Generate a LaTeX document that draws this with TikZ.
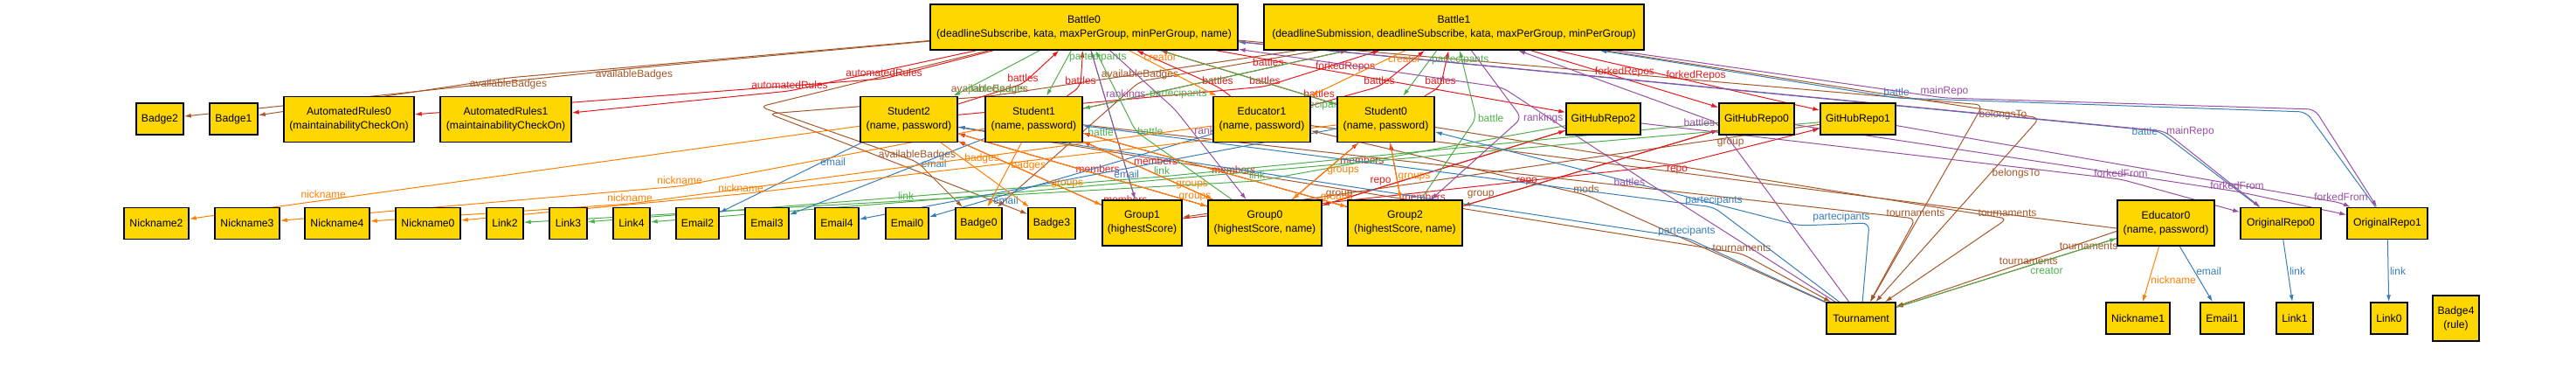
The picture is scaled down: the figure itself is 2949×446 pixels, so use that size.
\documentclass[tikz,border=0pt]{standalone}
\usepackage{fontspec}
\setmainfont{Liberation Sans}
\usepackage{xcolor}
\usetikzlibrary{arrows.meta,positioning,backgrounds}
\definecolor{alloygold}{HTML}{FFD700}
\definecolor{alloyred}{HTML}{E41A1C}
\definecolor{alloyblue}{HTML}{377EB8}
\definecolor{alloygreen}{HTML}{4DAF4A}
\definecolor{alloypurple}{HTML}{984EA3}
\definecolor{alloyorange}{HTML}{FF7F00}
\definecolor{alloybrown}{HTML}{A65628}

\begin{document}
\begin{tikzpicture}[
    x=1pt,y=-1pt,
    atom/.style  = {draw=black, line width=1.4pt, fill=alloygold, align=center,
                    font=\fontsize{12.2}{16}\selectfont, inner sep=1pt,
                    minimum height=36},
    atomb/.style = {atom, minimum height=52},
    rel/.style   = {-{Latex[length=8pt,width=5pt]}, line width=1pt, rounded corners=8pt},
    et/.style    = {font=\fontsize{12}{14}\selectfont, inner sep=1.5pt},
  ]
  \useasboundingbox (0,0) rectangle (2949,446);

  % top row
  \node[atomb, minimum width=352] (b0) at (1241,31)
       {Battle0\\(deadlineSubscribe, kata, maxPerGroup, minPerGroup, name)};
  \node[atomb, minimum width=435] (b1) at (1664.5,31)
       {Battle1\\(deadlineSubmission, deadlineSubscribe, kata, maxPerGroup, minPerGroup)};

  % middle row
  \node[atom,  minimum width=54]  (bdg2) at (183,136)    {Badge2};
  \node[atom,  minimum width=55]  (bdg1) at (267.5,136)  {Badge1};
  \node[atomb, minimum width=149] (ar0)  at (399.5,136.5) {AutomatedRules0\\(maintainabilityCheckOn)};
  \node[atomb, minimum width=150] (ar1)  at (579,136.5)   {AutomatedRules1\\(maintainabilityCheckOn)};
  \node[atomb, minimum width=111] (s2)   at (1040.5,136.5) {Student2\\(name, password)};
  \node[atomb, minimum width=111] (s1)   at (1183.5,136.5) {Student1\\(name, password)};
  \node[atomb, minimum width=111] (ed1)  at (1444.5,136.5) {Educator1\\(name, password)};
  \node[atomb, minimum width=111] (s0)   at (1586.5,136.5) {Student0\\(name, password)};
  \node[atom,  minimum width=85]  (gh2)  at (1835.5,136) {GitHubRepo2};
  \node[atom,  minimum width=86]  (gh0)  at (2011,136)   {GitHubRepo0};
  \node[atom,  minimum width=86]  (gh1)  at (2127,136)   {GitHubRepo1};

  % lower row
  \node[atom, minimum width=74] (nk2) at (179,255.5)  {Nickname2};
  \node[atom, minimum width=74] (nk3) at (283,255.5)  {Nickname3};
  \node[atom, minimum width=74] (nk4) at (386,255.5)  {Nickname4};
  \node[atom, minimum width=74] (nk0) at (490,255.5)  {Nickname0};
  \node[atom, minimum width=42] (lk2) at (578,255.5)  {Link2};
  \node[atom, minimum width=43] (lk3) at (650.5,255.5) {Link3};
  \node[atom, minimum width=42] (lk4) at (723,255.5)  {Link4};
  \node[atom, minimum width=49] (em2) at (798.5,255.5) {Email2};
  \node[atom, minimum width=50] (em3) at (878,255.5)  {Email3};
  \node[atom, minimum width=50] (em4) at (958,255.5)  {Email4};
  \node[atom, minimum width=49] (em0) at (1038.5,255.5) {Email0};
  \node[atom, minimum width=53] (bdg0) at (1120.5,255.5) {Badge0};
  \node[atom, minimum width=54] (bdg3) at (1204,255.5)  {Badge3};
  \node[atomb, minimum width=91]  (gr1) at (1307.5,255) {Group1\\(highestScore)};
  \node[atomb, minimum width=130] (gr0) at (1448,255)   {Group0\\(highestScore, name)};
  \node[atomb, minimum width=131] (gr2) at (1608.5,255) {Group2\\(highestScore, name)};
  \node[atomb, minimum width=111] (ed0) at (2479.5,255) {Educator0\\(name, password)};
  \node[atom, minimum width=92] (or0) at (2611,255.5) {OriginalRepo0};
  \node[atom, minimum width=92] (or1) at (2733,255.5) {OriginalRepo1};

  % bottom row
  \node[atom, minimum width=79] (tour) at (2130.5,364) {Tournament};
  \node[atom, minimum width=73] (nk1)  at (2447.5,364) {Nickname1};
  \node[atom, minimum width=50] (em1)  at (2544,364)   {Email1};
  \node[atom, minimum width=42] (lk1)  at (2627,364)   {Link1};
  \node[atom, minimum width=42] (lk0)  at (2735,364)   {Link0};
  \node[atomb, minimum width=53] (bdg4) at (2811.5,364) {Badge4\\(rule)};

  \begin{scope}[on background layer]
  % availableBadges, belongsTo, tournaments, mods, group
  \draw[rel,alloybrown] (b0) -- (726,78) node[et,below]{availableBadges} -- (bdg2);
  \draw[rel,alloybrown] (b0) -- (582,89) node[et,below]{availableBadges} -- (bdg1);
  \draw[rel,alloybrown] (b0) -- (870,122) -- (1050,185) node[et,above]{availableBadges} -- (bdg0);
  \draw[rel,alloybrown] (b1) -- (1133,110) node[et,above]{availableBadges} -- (880,130) -- (bdg3);
  \draw[rel,alloybrown] (b1) -- (1305,93) node[et,above]{availableBadges} -- (bdg0);
  \draw[rel,alloybrown] (b0) -- (2270,120) -- node[et,pos=.05,right]{belongsTo} (tour);
  \draw[rel,alloybrown] (b1) -- (2335,135) -- node[et,pos=.3,right]{belongsTo} (tour);
  \draw[rel,alloybrown] (s2) -- (1994,290) node[et,above]{tournaments} -- (tour);
  \draw[rel,alloybrown] (s1) -- (2193,250) node[et,above]{tournaments} -- (tour);
  \draw[rel,alloybrown] (s0) -- (2298,250) node[et,above]{tournaments} -- (tour);
  \draw[rel,alloybrown] (ed0) -- node[et,pos=.4,above]{tournaments} (tour);
  \draw[rel,alloybrown] (ed1) -- (2430,262) -- node[et,pos=.15,below]{tournaments} (tour);
  \draw[rel,alloybrown] (tour) -- (1816,223) node[et,above]{mods} -- (ed1);
  \draw[rel,alloybrown] (gh2) -- node[et,pos=.93,above]{group} (gr0);
  \draw[rel,alloybrown] (gh0) -- node[et,pos=.93,above]{group} (gr2);
  \draw[rel,alloybrown] (gh1) -- node[et,pos=.14,below]{group} (gr1);

  % automatedRules, battles, members, repo, forkedRepos
  \draw[rel,alloyred] (b0) -- (1012,90) node[et,above]{automatedRules} -- (ar0);
  \draw[rel,alloyred] (b0) -- (904,104) node[et,above]{automatedRules} -- (ar1);
  \draw[rel,alloyred] (s2) -- (1171,96) node[et,above]{battles} -- (b0);
  \draw[rel,alloyred] (s1) -- (1237,99) node[et,above]{battles} -- (b0);
  \draw[rel,alloyred] (ed1) -- (1394,99) node[et,above]{battles} -- (b0);
  \draw[rel,alloyred] (s0) -- node[et,pos=.1,above]{battles} (b0);
  \draw[rel,alloyred] (s2) -- (1448,99) node[et,above]{battles} -- (b1);
  \draw[rel,alloyred] (s1) -- node[et,pos=.7,above]{battles} (b1);
  \draw[rel,alloyred] (ed1) -- (1579,99) node[et,above]{battles} -- (b1);
  \draw[rel,alloyred] (s0) -- (1649,99) node[et,above]{battles} -- (b1);
  \draw[rel,alloyred] (gr1) -- node[et,pos=0,above right]{members} (s2);
  \draw[rel,alloyred] (gr0) -- node[et,pos=.44,above]{members} (s2);
  \draw[rel,alloyred] (gr0) -- node[et,pos=.44,above=8pt]{members} (s1);
  \draw[rel,alloyred] (gr2) -- node[et,pos=.43,above]{members} (s1);
  \draw[rel,alloyred] (gr0) -- node[et,pos=.7,right]{members} (s0);
  \draw[rel,alloyred] (gr2) -- node[et,pos=.05,right]{members} (s0);
  \draw[rel,alloyred] (gr0) -- node[et,pos=.24,above]{repo} (gh2);
  \draw[rel,alloyred] (gr2) -- node[et,pos=.25,above]{repo} (gh0);
  \draw[rel,alloyred] (gr1) -- (1920,188) node[et,below]{repo} -- (gh1);
  \draw[rel,alloyred] (b0) -- node[et,pos=.37,above]{forkedRepos} (gh2);
  \draw[rel,alloyred] (b1) -- node[et,pos=.5,above]{forkedRepos} (gh0);
  \draw[rel,alloyred] (b1) -- node[et,pos=.53,above]{forkedRepos} (gh1);

  % partecipants, battle, link, creator
  \draw[rel,alloygreen] (b0) -- node[et,pos=.85,right]{partecipants} (s2);
  \draw[rel,alloygreen] (b0) -- node[et,pos=.15,right]{partecipants} (s1);
  \draw[rel,alloygreen] (b0) -- node[et,pos=.9,below]{partecipants} (s0);
  \draw[rel,alloygreen] (b1) -- node[et,pos=.64,below]{partecipants} (s1);
  \draw[rel,alloygreen] (b1) -- node[et,pos=.2,right]{partecipants} (s0);
  \draw[rel,alloygreen] (gr1) -- node[et,pos=.45,left]{battle} (b0);
  \draw[rel,alloygreen] (gr0) -- (1300,150) node[et,right]{battle} -- (b0);
  \draw[rel,alloygreen] (gr2) -- (1690,135) node[et,right]{battle} -- (b1);
  \draw[rel,alloygreen] (gh2) -- (1439,207) node[et,above]{link} -- (lk2);
  \draw[rel,alloygreen] (gh0) -- (1330,202) node[et,above]{link} -- (lk3);
  \draw[rel,alloygreen] (gh1) -- (1037,231) node[et,above]{link} -- (lk4);
  \draw[rel,alloygreen] (tour) -- node[et,pos=.6,below right]{creator} (ed0);

  % email, partecipants, link, battle
  \draw[rel,alloyblue] (s2) -- node[et,pos=.2,below]{email} (em2);
  \draw[rel,alloyblue] (s1) -- node[et,pos=.26,below]{email} (em3);
  \draw[rel,alloyblue] (s0) -- node[et,pos=.44,below]{email} (em4);
  \draw[rel,alloyblue] (ed1) -- node[et,pos=.73,below]{email} (em0);
  \draw[rel,alloyblue] (ed0) -- node[et,pos=.45,right]{email} (em1);
  \draw[rel,alloyblue] (tour) -- (2140,255) -- node[et,pos=.4,above]{partecipants} (2060,258) -- (s0);
  \draw[rel,alloyblue] (tour) -- (1962,237) node[et,above]{partecipants} -- (s1);
  \draw[rel,alloyblue] (tour) -- (1931,272) node[et,above]{partecipants} -- (s2);
  \draw[rel,alloyblue] (or0) -- node[et,right]{link} (lk1);
  \draw[rel,alloyblue] (or1) -- node[et,right]{link} (lk0);
  \draw[rel,alloyblue] (or0) -- (2472,150) node[et,left]{battle} -- (b0);
  \draw[rel,alloyblue] (or1) -- (2640,128) -- (2171,112) node[et,above]{battle} -- (b1);

  % mainRepo, rankings, battles, forkedFrom
  \draw[rel,alloypurple] (b0) -- (2478,150) node[et,right]{mainRepo} -- (or0);
  \draw[rel,alloypurple] (b1) -- (2226,112) node[et,above]{mainRepo} -- (2650,125) -- (or1);
  \draw[rel,alloypurple] (b0) -- node[et,pos=.3,right]{rankings} (gr1);
  \draw[rel,alloypurple] (b0) -- (1345,125) -- node[et,pos=.25,right]{rankings} (gr0);
  \draw[rel,alloypurple] (b1) -- (1742,135) node[et,right]{rankings} -- (gr2);
  \draw[rel,alloypurple] (tour) -- (1965,140) node[et,left]{battles} -- (b1);
  \draw[rel,alloypurple] (tour) -- (1885,208) node[et,left]{battles} -- (1720,100) -- (b0);
  \draw[rel,alloypurple] (gh2) -- (2428,205) node[et,above]{forkedFrom} -- (or0);
  \draw[rel,alloypurple] (gh0) -- (2561,219) node[et,above]{forkedFrom} -- (or1);
  \draw[rel,alloypurple] (gh1) -- (2680,232) node[et,above]{forkedFrom} -- (or1);

  % creator, groups, badges, nickname
  \draw[rel,alloyorange] (b0) -- node[et,pos=.15,right]{creator} (ed1);
  \draw[rel,alloyorange] (b1) -- node[et,pos=.2,right]{creator} (ed1);
  \draw[rel,alloyorange] (s2) -- node[et,pos=.76,above]{groups} (gr1);
  \draw[rel,alloyorange] (s1) -- node[et,pos=.84,above]{groups} (gr0);
  \draw[rel,alloyorange] (s2) -- node[et,pos=.95,above]{groups} (gr0);
  \draw[rel,alloyorange] (s1) -- node[et,pos=.96,above]{groups} (gr2);
  \draw[rel,alloyorange] (s0) -- node[et,pos=.5,right]{groups} (gr0);
  \draw[rel,alloyorange] (s0) -- node[et,pos=.6,right]{groups} (gr2);
  \draw[rel,alloyorange] (s2) -- node[et,pos=.25,right]{badges} (bdg3);
  \draw[rel,alloyorange] (s1) -- node[et,pos=.35,right]{badges} (bdg0);
  \draw[rel,alloyorange] (s2) -- node[et,pos=.8,above]{nickname} (nk2);
  \draw[rel,alloyorange] (s1) -- (778,213) node[et,above]{nickname} -- (nk3);
  \draw[rel,alloyorange] (ed1) -- (721,233) node[et,above]{nickname} -- (nk4);
  \draw[rel,alloyorange] (s0) -- (848,222) node[et,above]{nickname} -- (nk0);
  \draw[rel,alloyorange] (ed0) -- node[et,pos=.6,right]{nickname} (nk1);
  \end{scope}

\end{tikzpicture}
\end{document}
